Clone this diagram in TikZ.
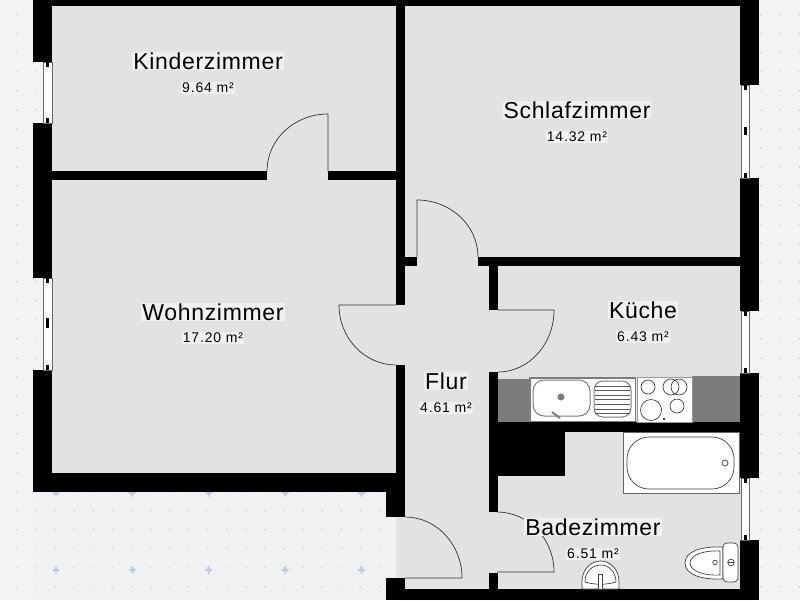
\documentclass[tikz,border=0pt]{standalone}
\usepackage{fontspec}
\setmainfont{Liberation Sans}
\newfontfamily\roomfont[LetterSpace=3]{Liberation Sans}
\newfontfamily\areafont[LetterSpace=6]{Liberation Sans}
\definecolor{bggray}{HTML}{F2F3F3}
\definecolor{terracegray}{HTML}{F0F1F2}
\definecolor{floorgray}{HTML}{E2E2E2}
\definecolor{halogray}{HTML}{F0F0F0}
\definecolor{dotgray}{HTML}{CFD1D3}
\definecolor{plusblue}{HTML}{BCCBDF}
\definecolor{countergray}{HTML}{7C7C7C}
\tikzset{
  roomname/.style={fill=halogray,inner sep=1pt,font=\roomfont\fontsize{23}{25}\selectfont},
  roomarea/.style={fill=halogray,inner sep=1pt,font=\areafont\fontsize{14}{16}\selectfont},
  fixture/.style={draw=black!75,line width=.7pt,fill=white},
  doorline/.style={draw=black!80,line width=.7pt},
  pane/.style={draw=black!60,line width=.8pt,fill=white}
}
\begin{document}
\begin{tikzpicture}[x=1pt,y=-1pt]
  \useasboundingbox (0,0) rectangle (800,600);
  \fill [bggray] (0,0) rectangle (800,600);
  \fill [terracegray] (33,492) rectangle (396,600);
  % grid of dots and crosses
  \foreach \i in {0,...,41}
    \foreach \j in {0,...,30}
      \fill [dotgray] ({17+19.08*\i},{14.5+19.08*\j}) circle (.9);
  \foreach \i in {0,...,4}
    \foreach \j in {493,570}
      \fill [plusblue] ({56+76.4*\i},\j) +(-4.5,0) -- +(-1.3,-1.3) -- +(0,-4.5) -- +(1.3,-1.3) -- +(4.5,0) -- +(1.3,1.3) -- +(0,4.5) -- +(-1.3,1.3) -- cycle;
  \def\myfloor{(43,0) -- (749,0) -- (749,600) -- (396,600) -- (396,492) -- (43,492) -- cycle}
  \fill [floorgray] \myfloor;
  % walls
  \foreach \xa/\ya/\xb/\yb in {33/0/759/6, 33/0/52/62, 33/123/52/278, 33/370/52/492, 33/473/405/492,
      52/171/267/180, 328/171/396/180, 396/0/405/305, 396/365/405/517, 386/492/405/517,
      386/578/405/600, 405/589/759/600, 405/257/417/266, 478/257/759/266, 489/266/498/310,
      489/372/498/512, 489/573/498/600, 498/422/740/432, 498/432/565/476,
      740/0/759/85, 740/178/759/311, 740/373/759/478, 740/540/759/600}
    \fill [black] (\xa,\ya) rectangle (\xb,\yb);
  % windows
  \foreach \xa/\ya/\xb/\yb in {43/62/52/123, 43/278/52/370, 741/85/749/178, 741/311/749/373, 741/478/749/540}{
    \draw [pane] (\xa,\ya) rectangle (\xb,\yb);
    \fill [black] ({(\xa+\xb)/2-1.5},\ya) rectangle ({(\xa+\xb)/2+1.5},\ya+5);
    \fill [black] ({(\xa+\xb)/2-1.5},\yb-5) rectangle ({(\xa+\xb)/2+1.5},\yb);
  }
  \fill [black] (46,318) rectangle (49,328);
  \fill [black] (743.5,127) rectangle (746.5,135);
  % doors
  \foreach \hx/\hy/\tx/\ty/\sa/\ea/\rx/\ry in {328/171/328/114/270/180/61/57, 417/257/417/200/270/360/61/57,
      396/305/339/305/180/90/57/60, 498/310/554/310/0/90/56/62,
      405/578/462/578/0/-90/57/61, 497/572/554/572/0/-90/57/60}
    \draw [doorline] (\hx,\hy) -- (\tx,\ty) arc [start angle=\sa,end angle=\ea,x radius=\rx,y radius=\ry];
  % kitchen
  \fill [countergray] (498,379) rectangle (529,422);
  \fill [countergray] (692,376) rectangle (740,422);
  \fill [countergray] (529,377) rectangle (636,422);
  \draw [fixture,draw=white,line width=1pt] (531,379) rectangle (634,420);
  \draw [fixture,draw=countergray,line width=1pt,rounded corners=11] (533,380) rectangle (590,416);
  \fill [countergray] (561,397) circle (3.5);
  \draw [countergray,line width=2pt] (552,412) -- (560,418);
  \draw [fixture,draw=countergray,line width=1pt,rounded corners=9] (594,381) rectangle (631,417);
  \foreach \y in {386,390.6,...,414}
    \draw [black!65,line width=.9pt] (595,\y) -- (630,\y);
  \draw [fixture,draw=black!40] (637,377) rectangle (692,422);
  \foreach \x/\y/\r in {648/387/7, 671/387/8, 679/387/8, 651/410/10.5, 677/406/7}
    \draw [fixture,fill=none] (\x,\y) circle (\r);
  \fill [black] (664,419) circle (1.2);
  % bathroom
  \draw [fixture,draw=black!60] (623,432) rectangle (739,493);
  \draw [fixture,rounded corners=22] (627,437) rectangle (734,489);
  \draw [fixture] (725,463) circle (3);
  \draw [fixture] (723,547) .. controls (700,546) and (685,552) .. (685,563) .. controls (685,574) and (700,580) .. (723,579) -- cycle;
  \draw [fixture] (720,551) .. controls (704,550) and (690,555) .. (690,563) .. controls (690,571) and (704,576) .. (720,575) -- cycle;
  \draw [fixture] (715,562.5) circle (2.3);
  \draw [fixture,rounded corners=4] (723,543) rectangle (738,582);
  \draw [fixture] (731,562.5) circle (3.3);
  \draw [black!75,line width=.6pt] (727.7,562.5) -- (734.3,562.5);
  \draw [fixture] (582,589) -- (582,582) .. controls (582,570) and (590,561) .. (600.5,561) .. controls (611,561) and (619,570) .. (619,582) -- (619,589) -- cycle;
  \draw [fixture] (585,582) .. controls (585,572) and (592,565) .. (600.5,565) .. controls (609,565) and (616,572) .. (616,582) .. controls (606,585) and (595,585) .. (585,582) -- cycle;
  \draw [fixture] (598.5,574) rectangle (602.5,589);
  % labels
  \node [roomname] (kinder) at (208,61) {Kinderzimmer};
  \node [roomarea] (kinderarea) at (208,88) {9.64 m²};
  \node [roomname] (schlaf) at (577,110) {Schlafzimmer};
  \node [roomarea] (schlafarea) at (577,137) {14.32 m²};
  \node [roomname] (wohn) at (213,312) {Wohnzimmer};
  \node [roomarea] (wohnarea) at (213,338) {17.20 m²};
  \node [roomname] (kueche) at (643,310) {Küche};
  \node [roomarea] (kuechearea) at (643,337) {6.43 m²};
  \node [roomname] (flur) at (446,381) {Flur};
  \node [roomarea] (flurarea) at (446,408) {4.61 m²};
  \node [roomname] (bad) at (593,527) {Badezimmer};
  \node [roomarea] (badarea) at (593,554) {6.51 m²};
\end{tikzpicture}
\end{document}
